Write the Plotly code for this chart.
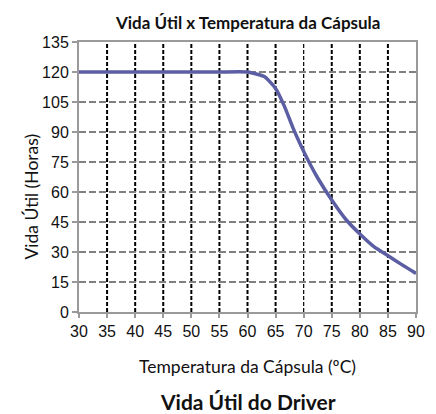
import plotly.graph_objects as go

temps = [30, 35, 40, 45, 50, 55, 60, 63, 65, 66.6, 68, 69.5, 71.2, 72.5, 75, 77.6, 80.2, 82.5, 85.1, 87.4, 90]
life_hours = [120, 120, 120, 120, 120, 120, 120, 117.7, 111.8, 102.7, 92.7, 83.3, 73.6, 67, 56, 46, 38.5, 32.7, 28, 23.8, 19.3]
x_ticks = [30, 35, 40, 45, 50, 55, 60, 65, 70, 75, 80, 85, 90]
y_ticks = [0, 15, 30, 45, 60, 75, 90, 105, 120, 135]

fig = go.Figure()
fig.add_trace(go.Scatter(x=temps, y=life_hours, mode="lines",
                         line=dict(color="#5b5ea3", width=3.5, shape="spline", smoothing=0.5),
                         showlegend=False, hoverinfo="skip"))

# vertical dashed grid (black)
for xv in x_ticks[1:-1]:
    fig.add_shape(type="line", x0=xv, x1=xv, y0=0, y1=135, xref="x", yref="y",
                  line=dict(color="#000000", width=1.2 if xv == 70 else 2, dash="4px,2px"), layer="below")
# horizontal dashed grid (gray)
for yv in y_ticks[1:-1]:
    fig.add_shape(type="line", x0=30, x1=90, y0=yv, y1=yv, xref="x", yref="y",
                  line=dict(color="#808080", width=1.8, dash="7px,3px"), layer="below")

fig.update_xaxes(range=[30, 90], tickvals=x_ticks, showgrid=False, zeroline=False,
                 showline=True, linecolor="#9a9a9a", linewidth=2, mirror=True,
                 ticks="outside", ticklen=4, tickcolor="#9a9a9a", tickwidth=1.5,
                 tickfont=dict(family="Liberation Sans, Arial", size=16, color="#111111"))
fig.update_yaxes(range=[0, 135], tickvals=y_ticks, showgrid=False, zeroline=False,
                 showline=True, linecolor="#9a9a9a", linewidth=2, mirror=True,
                 ticks="outside", ticklen=5, tickcolor="#9a9a9a", tickwidth=1.5,
                 tickfont=dict(family="Liberation Sans, Arial", size=16, color="#111111"))

title_font = "Lato, Open Sans, sans-serif"
fig.add_annotation(text="<b>Vida Útil x Temperatura da Cápsula</b>", xref="paper", yref="paper",
                   x=0.5, y=1, yshift=20, yanchor="middle", showarrow=False,
                   font=dict(family=title_font, size=17, color="#111111"))
fig.add_annotation(text="Temperatura da Cápsula (ºC)", xref="paper", yref="paper",
                   x=0.5, y=0, yshift=-54, yanchor="middle", showarrow=False,
                   font=dict(family=title_font, size=17.5, color="#111111"))
fig.add_annotation(text="<b>Vida Útil do Driver</b>", xref="paper", yref="paper",
                   x=0.5, y=0, yshift=-89, yanchor="middle", showarrow=False,
                   font=dict(family=title_font, size=21, color="#111111"))
fig.add_annotation(text="Vida Útil (Horas)", xref="paper", yref="paper",
                   x=0, xshift=-60, y=0.426, textangle=-90, showarrow=False,
                   font=dict(family=title_font, size=17.5, color="#111111"))

# page has an 8px body margin; size/margins compensate so the plot sits where the reference has it
fig.update_layout(width=428, height=406, margin=dict(l=71, r=11, t=34, b=102),
                  plot_bgcolor="white", paper_bgcolor="white")
fig.write_html("out.html")
